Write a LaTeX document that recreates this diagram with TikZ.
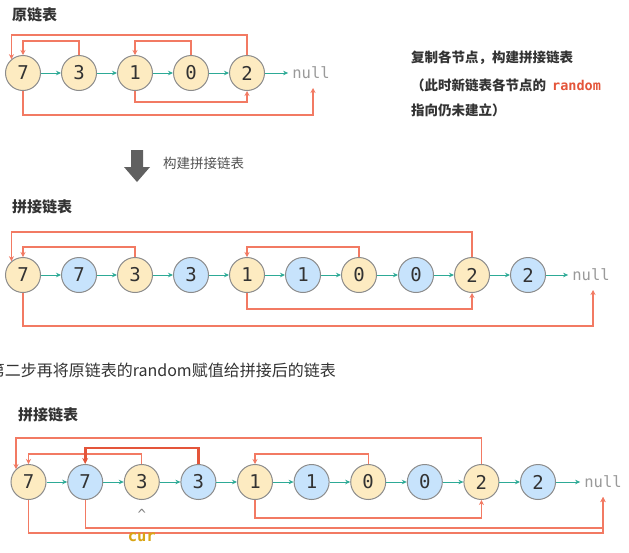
\documentclass[tikz,border=0pt]{standalone}
\usepackage{fontspec}
\setmainfont{Noto Sans CJK SC}
\newfontfamily\cjk{Noto Sans CJK SC}
\newfontfamily\monof{DejaVu Sans Mono}
\usetikzlibrary{arrows.meta}
\definecolor{nyel}{HTML}{FDEBC1}
\definecolor{nblu}{HTML}{C7E3FC}
\definecolor{nbor}{HTML}{8C8C8C}
\definecolor{tealc}{HTML}{2DAA96}
\definecolor{redc}{HTML}{F27A63}
\definecolor{redd}{HTML}{E4553A}
\definecolor{txt}{HTML}{333333}
\definecolor{nullc}{HTML}{9A9A9A}
\definecolor{curc}{HTML}{D9A514}
\tikzset{
  basenode/.style={circle, draw=nbor, line width=1pt, minimum size=35pt, inner sep=0pt,
    text=txt, font=\monof\fontsize{19}{19}\selectfont},
  yn/.style={basenode, fill=nyel},
  bn/.style={basenode, fill=nblu},
  nxt/.style={draw=tealc, line width=1pt, -{Stealth[length=5pt,width=4.5pt]}},
  rnd/.style={draw=redc, line width=1.3pt, -{Stealth[length=5pt,width=5pt]}},
  rndthick/.style={draw=redd, line width=2.6pt, -{Stealth[length=6pt,width=6pt]}},
  nulltxt/.style={text=nullc, font=\monof\fontsize{15.5}{15.5}\selectfont, inner sep=0pt},
  ttl/.style={text=txt, font=\cjk\bfseries\fontsize{15}{15}\selectfont, anchor=west, inner sep=0pt},
  note/.style={text=txt, font=\cjk\bfseries\fontsize{13.5}{13.5}\selectfont, anchor=west, inner sep=0pt},
}
\begin{document}
\begin{tikzpicture}[x=1pt,y=-1pt]
\useasboundingbox[fill=white] (0,0) rectangle (629,552);

% ---------- Section 1 ----------
\node[ttl] (t1) at (12,15) {原链表};
\node[yn] (p0) at (23,73) {7};
\node[yn] (p1) at (79,73) {3};
\node[yn] (p2) at (135,73) {1};
\node[yn] (p3) at (191,73) {0};
\node[yn] (p4) at (247,73) {2};
\node[nulltxt] (null1) at (311,73) {null};
\coordinate (n1) at (313,88);
\foreach \a/\b in {p0/p1,p1/p2,p2/p3,p3/p4} \draw[nxt] (\a) -- (\b);
\draw[nxt] (p4) -- ([xshift=-4pt]null1.west);
\draw[rnd] (p4.north) -- (p4.north |- 0,35) -| (p0.130);
\draw[rnd] (p1.north) -- (p1.north |- 0,41) -| (p0.north);
\draw[rnd] (p3.north) -- (p3.north |- 0,41) -| (p2.north);
\draw[rnd] (p2.south) -- (p2.south |- 0,102) -| (p4.south);
\draw[rnd] (p0.south) -- (p0.south |- 0,115) -| (n1);

\node[note] (r1) at (411,58) {复制各节点，构建拼接链表};
\node[note] (r2) at (411,85) {（此时新链表各节点的\hspace{6pt}{\monof\bfseries\color{redd}random}};
\node[note] (r3) at (411,110) {指向仍未建立）};

% gray block arrow
\fill[gray!75!black] (131,150) -- (143,150) -- (143,167) -- (150,167) -- (137,182) -- (124,167) -- (131,167) -- cycle;
\node[text=txt!85!white, font=\cjk\fontsize{13.5}{13.5}\selectfont, anchor=west, inner sep=0pt] (m1) at (163,163) {构建拼接链表};

% ---------- Section 2 ----------
\node[ttl] (t2) at (12,207) {拼接链表};
\node[yn] (q0) at (23,275) {7};
\node[bn] (q1) at (79,275) {7};
\node[yn] (q2) at (135,275) {3};
\node[bn] (q3) at (191,275) {3};
\node[yn] (q4) at (247,275) {1};
\node[bn] (q5) at (303,275) {1};
\node[yn] (q6) at (359,275) {0};
\node[bn] (q7) at (416,275) {0};
\node[yn] (q8) at (472,275) {2};
\node[bn] (q9) at (528,275) {2};
\node[nulltxt] (null2) at (591,275) {null};
\coordinate (n2) at (593,290);
\foreach \a/\b in {q0/q1,q1/q2,q2/q3,q3/q4,q4/q5,q5/q6,q6/q7,q7/q8,q8/q9} \draw[nxt] (\a) -- (\b);
\draw[nxt] (q9) -- ([xshift=-4pt]null2.west);
\draw[rnd] (q8.north) -- (q8.north |- 0,232) -| (q0.130);
\draw[rnd] (q2.north) -- (q2.north |- 0,247) -| (q0.north);
\draw[rnd] (q6.north) -- (q6.north |- 0,247) -| (q4.north);
\draw[rnd] (q4.south) -- (q4.south |- 0,309) -| (q8.south);
\draw[rnd] (q0.south) -- (q0.south |- 0,326) -| (n2);

% ---------- middle sentence ----------
\node[text=txt, font=\cjk\fontsize{16}{16}\selectfont, anchor=east, inner sep=0pt] (s1) at (336,370) {第二步再将原链表的random赋值给拼接后的链表};

% ---------- Section 3 ----------
\node[ttl] (t3) at (18,415) {拼接链表};
\node[yn] (u0) at (28.5,482) {7};
\node[bn] (u1) at (85.2,482) {7};
\node[yn] (u2) at (141.8,482) {3};
\node[bn] (u3) at (198.4,482) {3};
\node[yn] (u4) at (255,482) {1};
\node[bn] (u5) at (311.6,482) {1};
\node[yn] (u6) at (368.2,482) {0};
\node[bn] (u7) at (424.8,482) {0};
\node[yn] (u8) at (481.4,482) {2};
\node[bn] (u9) at (538,482) {2};
\node[nulltxt] (null3) at (603,482) {null};
\coordinate (n3) at (603,497);
\foreach \a/\b in {u0/u1,u1/u2,u2/u3,u3/u4,u4/u5,u5/u6,u6/u7,u7/u8,u8/u9} \draw[nxt] (\a) -- (\b);
\draw[nxt] (u9) -- ([xshift=-4pt]null3.west);
\draw[rnd] (u8.north) -- (u8.north |- 0,438) -| (u0.134);
\draw[rnd] (u2.north) -- (u2.north |- 0,454) -| (u0.north);
\draw[rnd] (u6.north) -- (u6.north |- 0,454) -| (u4.north);
\draw[rnd] (u4.south) -- (u4.south |- 0,518) -| (u8.south);
\draw[rnd] (u1.south) -- (u1.south |- 0,528) -| (n3);
\draw[rnd] (u0.south) -- (u0.south |- 0,533) -| (n3);
\draw[rndthick] (u3.north) -- (u3.north |- 0,448) -| (u1.north);

\node[text=gray, font=\monof\fontsize{14}{14}\selectfont, inner sep=0pt] (caret) at (141.8,514) {\^{}};
\node[text=curc, font=\monof\bfseries\fontsize{15.5}{15.5}\selectfont, inner sep=0pt] (cur) at (141.8,537) {cur};
\end{tikzpicture}
\end{document}
